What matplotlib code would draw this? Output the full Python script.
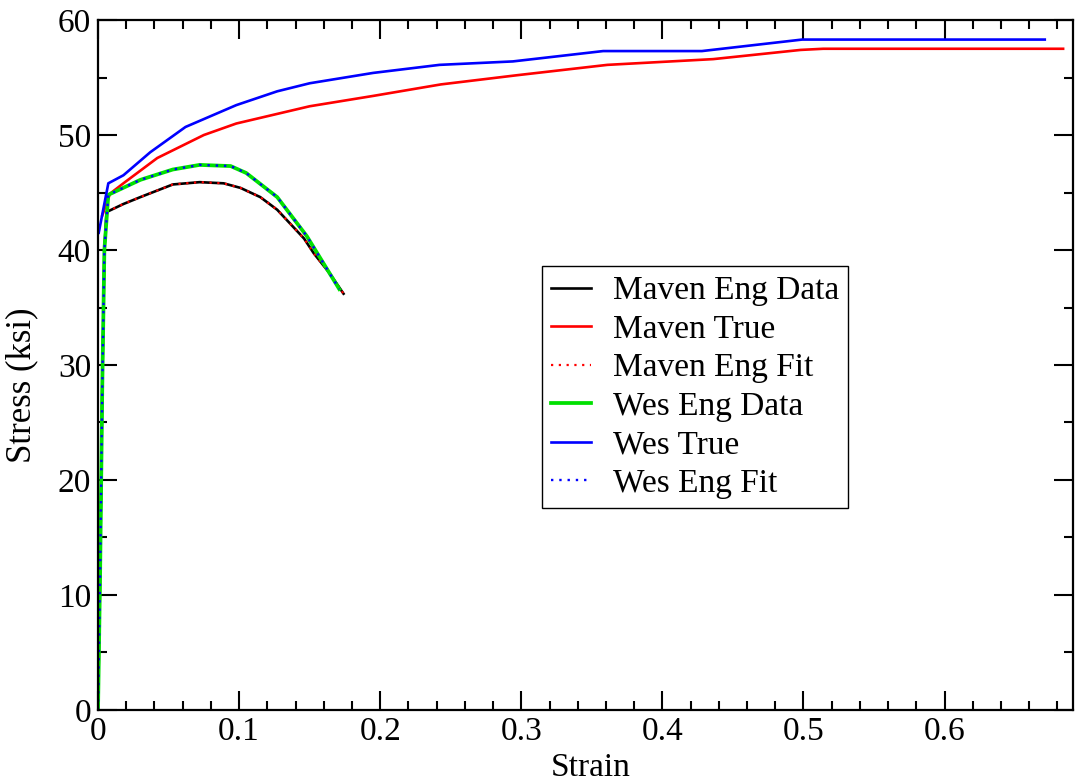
import matplotlib
matplotlib.use("Agg")
import matplotlib.pyplot as plt
from matplotlib.ticker import MultipleLocator

plt.rcParams['font.family'] = ['Liberation Serif', 'DejaVu Serif']

# Maven engineering data
maven_eng_x = [0.0, 0.0015, 0.003, 0.0045, 0.006, 0.018, 0.030, 0.053, 0.072, 0.089,
               0.101, 0.115, 0.127, 0.146, 0.153, 0.164, 0.174]
maven_eng_y = [0.0, 12.0, 28.0, 40.0, 43.3, 44.0, 44.6, 45.7, 45.9, 45.8,
               45.4, 44.6, 43.5, 41.0, 39.7, 38.0, 36.2]
maven_fit_x = maven_eng_x
maven_fit_y = maven_eng_y

# Wes engineering data
wes_eng_x = [0.0, 0.0015, 0.003, 0.0045, 0.0073, 0.030, 0.053, 0.072, 0.094, 0.105,
             0.127, 0.148, 0.157, 0.165, 0.171]
wes_eng_y = [0.0, 12.0, 28.0, 40.0, 44.8, 46.1, 47.0, 47.4, 47.3, 46.7,
             44.6, 41.2, 39.4, 37.8, 36.6]
wes_fit_x = wes_eng_x
wes_fit_y = wes_eng_y

# true stress-strain
maven_true_x = [0.003, 0.0085, 0.018, 0.042, 0.075, 0.098, 0.150, 0.195, 0.243,
                0.297, 0.361, 0.436, 0.498, 0.514, 0.684]
maven_true_y = [43.0, 44.9, 45.8, 48.0, 50.0, 51.0, 52.5, 53.4, 54.4,
                55.2, 56.1, 56.6, 57.4, 57.5, 57.5]
wes_true_x = [0.0005, 0.0073, 0.018, 0.037, 0.062, 0.098, 0.127, 0.150, 0.195, 0.242,
              0.294, 0.358, 0.428, 0.499, 0.671]
wes_true_y = [41.5, 45.8, 46.5, 48.5, 50.7, 52.6, 53.8, 54.5, 55.4, 56.1,
              56.4, 57.3, 57.3, 58.3, 58.3]

fig = plt.figure(figsize=(10.76, 7.82), dpi=100)
ax = fig.add_axes([0.0911, 0.0921, 0.9061, 0.8823])

lw = 1.9
ax.plot(maven_eng_x, maven_eng_y, color='black', lw=lw, label='Maven Eng Data')
ax.plot(maven_true_x, maven_true_y, color='#ff0000', lw=lw, label='Maven True')
ax.plot(maven_fit_x, maven_fit_y, color='#ff0000', lw=1.6, ls=(0, (1, 2.5)), label='Maven Eng Fit')
ax.plot(wes_eng_x, wes_eng_y, color='#00e000', lw=lw + 0.8, label='Wes Eng Data')
ax.plot(wes_true_x, wes_true_y, color='#0000ff', lw=lw, label='Wes True')
ax.plot(wes_fit_x, wes_fit_y, color='#0000ff', lw=1.7, ls=(0, (1, 2.5)), label='Wes Eng Fit')

ax.set_xlim(0, 0.691)
ax.set_ylim(0, 60)
ax.xaxis.set_major_locator(MultipleLocator(0.1))
ax.xaxis.set_minor_locator(MultipleLocator(0.02))
ax.yaxis.set_major_locator(MultipleLocator(10))
ax.yaxis.set_minor_locator(MultipleLocator(5))
ax.set_xticks([0, 0.1, 0.2, 0.3, 0.4, 0.5, 0.6])
ax.set_xticklabels(['0', '0.1', '0.2', '0.3', '0.4', '0.5', '0.6'])
ax.tick_params(which='both', direction='in', top=True, right=True, width=1.5,
               labelsize=24, pad=5)
ax.tick_params(which='major', length=14)
ax.tick_params(which='minor', length=6.5)
for s in ax.spines.values():
    s.set_linewidth(1.6)

ax.set_xlabel('Strain', fontsize=24, labelpad=5)
ax.set_ylabel('Stress (ksi)', fontsize=25)
ax.yaxis.set_label_coords(-0.061, 0.47)
ax.xaxis.set_label_coords(0.505, -0.062)
ax.xaxis.label.set_va('top')

leg = ax.legend(loc='upper left', bbox_to_anchor=(0.455, 0.643), fontsize=24,
                frameon=True, fancybox=False, edgecolor='black', framealpha=1,
                borderaxespad=0, handlelength=1.2, labelspacing=0.24,
                borderpad=0.28, handletextpad=0.65)
leg.get_frame().set_linewidth(1.0)

fig.savefig('out.png', dpi=100)
